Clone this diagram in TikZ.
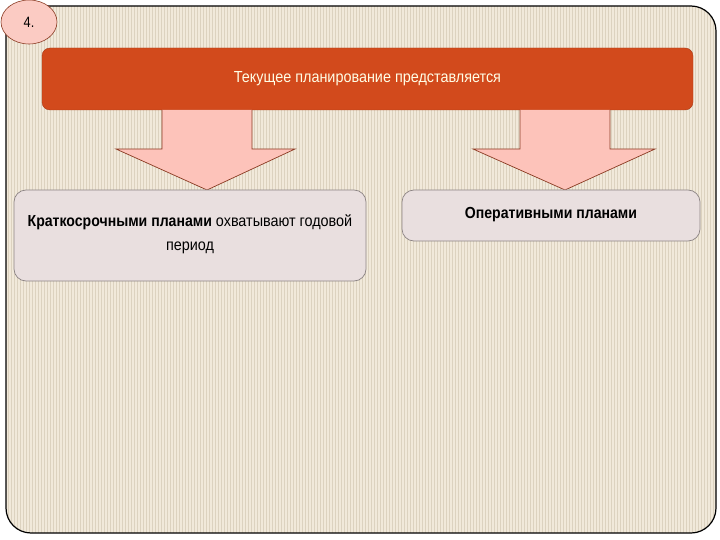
\documentclass[tikz,border=0pt]{standalone}
\usepackage{fontspec}
\usetikzlibrary{shapes.geometric}
\setmainfont{Liberation Sans}
\newfontfamily\cond[FakeStretch=0.85]{Liberation Sans}
\newfontfamily\boldcond[FakeStretch=0.88]{Liberation Sans}
\newfontfamily\semi[FakeStretch=0.9]{Liberation Sans}
\definecolor{bgbeige}{HTML}{F1E9DA}
\definecolor{stripe}{HTML}{DCD2BF}
\definecolor{banner}{HTML}{D24A1C}
\definecolor{arrowpink}{HTML}{FDC3BA}
\definecolor{arrowline}{HTML}{8A3A22}
\definecolor{boxfill}{HTML}{E9DFDF}
\definecolor{boxline}{HTML}{8C8484}
\definecolor{ellfill}{HTML}{FBCBC3}
\tikzset{
  bigarrow/.style={fill=arrowpink, draw=arrowline, line width=0.7pt},
  planbox/.style={rounded corners=12pt, fill=boxfill, draw=boxline, line width=0.7pt},
}
\begin{document}
\begin{tikzpicture}[x=1pt,y=-1pt]
\useasboundingbox (0,0) rectangle (720,540);
\fill[white] (0,0) rectangle (720,540);
% outer frame
\fill[bgbeige, rounded corners=25pt] (6,6) rectangle (716,533);
\begin{scope}
\clip[rounded corners=25pt] (6,6) rectangle (716,533);
\foreach \i in {0,...,236} {
  \draw[stripe, line width=0.7pt] (8+3*\i,6) -- (8+3*\i,533);
}
\end{scope}
\draw[black, line width=1.2pt, rounded corners=25pt] (6,6) rectangle (716,533);
% ellipse label
\node[ellipse, draw=arrowline, fill=ellfill, line width=0.6pt, minimum width=56pt, minimum height=44pt, inner sep=0pt, font=\cond\fontsize{15}{17}\selectfont] (num) at (29,22) {4.};
% banner
\node[draw=banner!80!black, fill=banner, rounded corners=8pt, minimum width=651pt, minimum height=62pt, inner sep=0pt, text=white!90!yellow, font=\semi\fontsize{16}{18}\selectfont] (ban) at (367.5,79) {Текущее планирование представляется};
% arrows
\draw[bigarrow] (162,110) -- (162,149) -- (116,149) -- (207,190) -- (295,149) -- (252,149) -- (252,110);
\draw[bigarrow] (520,110) -- (520,149) -- (473,149) -- (565,190) -- (655,149) -- (610,149) -- (610,110);
% boxes
\draw[planbox] (14,190) rectangle (366,281);
\node[align=center, inner sep=0pt, font=\semi\fontsize{16}{24}\selectfont] (b1) at (190,234) {{\boldcond\bfseries Краткосрочными планами} охватывают годовой\\ период};
\draw[planbox] (402,190) rectangle (700,241);
\node[inner sep=0pt, font=\boldcond\bfseries\fontsize{16}{18}\selectfont] (b2) at (551,215) {Оперативными планами};
\end{tikzpicture}
\end{document}
